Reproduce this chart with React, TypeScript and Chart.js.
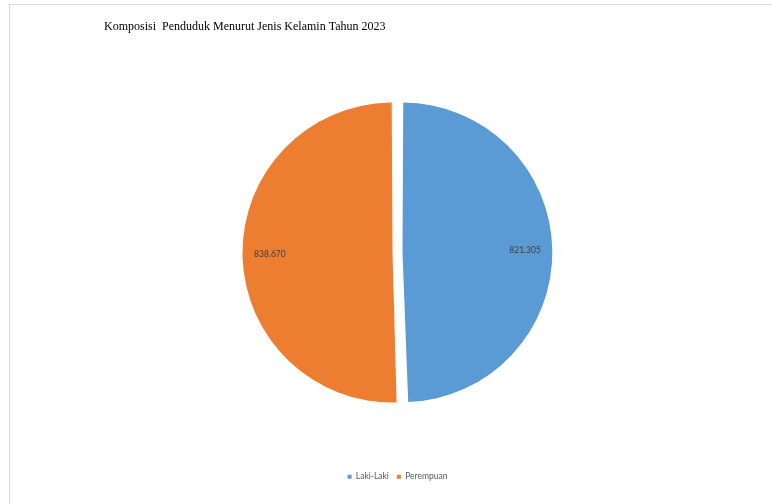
import React, { useEffect, useRef } from "react";
import { Chart, registerables } from "chart.js";

Chart.register(...registerables);

const categories = ["Laki-Laki", "Perempuan"];
const values = [821305, 838670];
const valueLabels = ["821.305", "838.670"];
const colors = ["#5B9BD5", "#ED7D31"];
const titleText = "Komposisi  Penduduk Menurut Jenis Kelamin Tahun 2023";

const labelPlugin = {
  id: "sliceLabels",
  afterDatasetsDraw(chart: any) {
    const meta = chart.getDatasetMeta(0);
    const ctx = chart.ctx;
    ctx.save();
    ctx.font = "8.5px Lato";
    ctx.fillStyle = "#404040";
    ctx.textAlign = "center";
    ctx.textBaseline = "middle";
    meta.data.forEach((arc: any, i: number) => {
      const p = arc.getProps(["x", "y", "startAngle", "endAngle", "outerRadius"], true);
      const mid = (p.startAngle + p.endAngle) / 2;
      const r = p.outerRadius * 0.88;
      const x = p.x + Math.cos(mid) * r;
      const y = p.y + Math.sin(mid) * r;
      ctx.fillText(valueLabels[i], x, y);
    });
    ctx.restore();
  },
};

export default function App() {
  const ref = useRef<HTMLCanvasElement>(null);
  useEffect(() => {
    document.body.style.margin = "0";
    const chart = new Chart(ref.current!, {
      type: "pie",
      data: {
        labels: categories,
        datasets: [
          {
            data: values,
            backgroundColor: colors,
            borderWidth: 0,
            offset: 20,
          },
        ],
      },
      options: {
        responsive: false,
        animation: false,
        radius: 145,
        layout: { padding: { left: 104, right: 81, top: 14, bottom: 13 } },
        plugins: {
          title: {
            display: true,
            text: titleText,
            align: "start",
            color: "#000000",
            font: { family: "Liberation Serif", size: 12, weight: "normal" },
            padding: { top: 6, bottom: 6 },
          },
          legend: {
            position: "bottom",
            labels: {
              boxWidth: 4,
              boxHeight: 4,
              padding: 8,
              color: "#595959",
              font: { family: "Lato", size: 8.5 },
            },
          },
          tooltip: { enabled: false },
        },
      },
      plugins: [labelPlugin],
    } as any);
    return () => chart.destroy();
  }, []);
  return (
    <div style={{ position: "fixed", left: 0, top: 0, width: 772, height: 504, overflow: "hidden", background: "#fff" }}>
      <div
        style={{
          position: "absolute",
          left: 9,
          top: 4,
          width: 800,
          height: 560,
          border: "1px solid #d9d9d9",
          boxSizing: "border-box",
        }}
      />
      <canvas ref={ref} width={772} height={504} style={{ position: "absolute", left: 0, top: 0 }} />
    </div>
  );
}
